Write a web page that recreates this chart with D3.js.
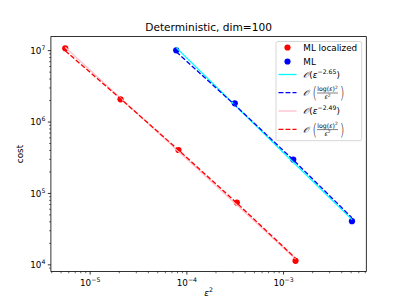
<!DOCTYPE html>
<html>
<head>
<meta charset="utf-8">
<script src="https://cdn.jsdelivr.net/npm/d3@7"></script>
<style>
  body { margin: 0; background: #fff; }
  svg { display: block; font-family: "DejaVu Sans", sans-serif; }
</style>
</head>
<body>
<svg id="chart" width="407" height="305"></svg>
<script>
// epsilon^2 values and cost
const locEps2 = [5.52e-6, 2.06e-5, 8.19e-5, 3.29e-4, 1.33e-3];
const locCost = [1.08e7, 2.08e6, 4.06e5, 7.45e4, 1.14e4];
const mlEps2 = [7.76e-5, 3.13e-4, 1.26e-3, 5.1e-3];
const mlCost = [1.01e7, 1.83e6, 2.98e5, 4.09e4];

const mlRate = 2.65;
const locRate = 2.49;

const xTicks = [-5, -4, -3];
const yTicks = [4, 5, 6, 7];

const W = 407, H = 305;
const margin = { left: 50.9, right: 40.7, top: 36.6, bottom: 33.55 };

// least squares constant for a fixed-shape fit (in log space)
function fitConst(xs, ys, shape) {
    let s = 0;
    xs.forEach((x, i) => { s += Math.log10(ys[i]) - Math.log10(shape(x)); });
    return Math.pow(10, s / xs.length);
}
const powShape = rate => e2 => Math.pow(Math.sqrt(e2), -rate);
const logShape = e2 => Math.pow(Math.log(Math.sqrt(e2)), 2) / e2;

function fitLine(xs, ys, shape) {
    const c = fitConst(xs, ys, shape);
    return xs.map(x => ({ x: x, y: c * shape(x) }));
}

const mlPow = fitLine(mlEps2, mlCost, powShape(mlRate));
const mlLog = fitLine(mlEps2, mlCost, logShape);
const locPow = fitLine(locEps2, locCost, powShape(locRate));
const locLog = fitLine(locEps2, locCost, logShape);

const svg = d3.select('#chart');
const pw = W - margin.left - margin.right;
const ph = H - margin.top - margin.bottom;

function logDomain(vals) {
    const lo = Math.log10(d3.min(vals)), hi = Math.log10(d3.max(vals));
    const pad = (hi - lo) * 0.05;
    return [Math.pow(10, lo - pad), Math.pow(10, hi + pad)];
}

const allX = locEps2.concat(mlEps2);
const allY = locCost.concat(mlCost, [mlPow, mlLog, locPow, locLog].flat().map(d => d.y));

const x = d3.scaleLog().domain(logDomain(allX)).range([margin.left, margin.left + pw]);
const y = d3.scaleLog().domain(logDomain(allY)).range([margin.top + ph, margin.top]);

const g = svg.append('g');

// plot contents clipped to the axes
svg.append('clipPath').attr('id', 'clip')
    .append('rect').attr('x', margin.left).attr('y', margin.top).attr('width', pw).attr('height', ph);
const plot = g.append('g').attr('clip-path', 'url(#clip)');

const pts = [
    { xs: locEps2, ys: locCost, color: 'red' },
    { xs: mlEps2, ys: mlCost, color: 'blue' }
];
pts.forEach(p => {
    plot.selectAll(null).data(p.xs).enter().append('circle')
        .attr('cx', d => x(d))
        .attr('cy', (d, i) => y(p.ys[i]))
        .attr('r', 3.1)
        .attr('fill', p.color);
});

const line = d3.line().x(d => x(d.x)).y(d => y(d.y));
const fits = [
    { data: mlPow, color: 'cyan', dash: null },
    { data: mlLog, color: 'blue', dash: '4.9,2.1' },
    { data: locPow, color: 'pink', dash: null },
    { data: locLog, color: 'red', dash: '4.9,2.1' }
];
fits.forEach(f => {
    plot.append('path')
        .attr('d', line(f.data))
        .attr('fill', 'none')
        .attr('stroke', f.color)
        .attr('stroke-width', 1.32)
        .attr('stroke-dasharray', f.dash);
});

// ticks
const tickColor = '#000';
function minorTicks(scale) {
    const [a, b] = scale.domain().map(Math.log10);
    const out = [];
    for (let e = Math.floor(a); e <= Math.ceil(b); e++) {
        for (let m = 2; m <= 9; m++) {
            const v = m * Math.pow(10, e);
            const lv = Math.log10(v);
            if (lv >= a && lv <= b) out.push(v);
        }
    }
    return out;
}

minorTicks(x).forEach(v => {
    g.append('line').attr('x1', x(v)).attr('x2', x(v))
        .attr('y1', margin.top + ph).attr('y2', margin.top + ph + 1.8)
        .attr('stroke', tickColor).attr('stroke-width', 0.6);
});
minorTicks(y).forEach(v => {
    g.append('line').attr('y1', y(v)).attr('y2', y(v))
        .attr('x1', margin.left).attr('x2', margin.left - 1.8)
        .attr('stroke', tickColor).attr('stroke-width', 0.6);
});

function powLabel(sel, exp, anchor) {
    const t = sel.append('text').attr('text-anchor', anchor).attr('font-size', 8.8).attr('fill', '#000');
    t.append('tspan').text('10');
    t.append('tspan').attr('font-size', 6.2).attr('dy', -4).text(exp < 0 ? '\u2212' + (-exp) : exp);
    return t;
}

xTicks.forEach(e => {
    const px = x(Math.pow(10, e));
    g.append('line').attr('x1', px).attr('x2', px)
        .attr('y1', margin.top + ph).attr('y2', margin.top + ph + 3.1)
        .attr('stroke', tickColor).attr('stroke-width', 0.8);
    powLabel(g, e, 'middle').attr('x', px).attr('y', margin.top + ph + 14.6);
});
yTicks.forEach(e => {
    const py = y(Math.pow(10, e));
    g.append('line').attr('y1', py).attr('y2', py)
        .attr('x1', margin.left).attr('x2', margin.left - 3.1)
        .attr('stroke', tickColor).attr('stroke-width', 0.8);
    powLabel(g, e, 'end').attr('x', margin.left - 5.5).attr('y', py + 3.2);
});

// frame
g.append('rect').attr('x', margin.left).attr('y', margin.top).attr('width', pw).attr('height', ph)
    .attr('fill', 'none').attr('stroke', '#000').attr('stroke-width', 0.8);

// title and axis labels
g.append('text').attr('x', margin.left + pw / 2).attr('y', 31)
    .attr('text-anchor', 'middle').attr('font-size', 10.6).text('Deterministic, dim=100');

const xl = g.append('text').attr('x', margin.left + pw / 2).attr('y', 296)
    .attr('text-anchor', 'middle').attr('font-size', 8.8);
xl.append('tspan').attr('font-style', 'italic').text('\u03b5');
xl.append('tspan').attr('font-size', 6.2).attr('dy', -4).text('2');

g.append('text').attr('transform', `translate(23,${margin.top + ph / 2}) rotate(-90)`)
    .attr('text-anchor', 'middle').attr('font-size', 8.8).text('cost');

// legend
const lg = g.append('g');
lg.append('rect').attr('x', 276).attr('y', 41.5).attr('width', 85.7).attr('height', 99.2)
    .attr('rx', 2).attr('fill', 'rgba(255,255,255,0.8)').attr('stroke', '#cccccc').attr('stroke-width', 0.8);

const hx0 = 278.5, hx1 = 296.5, tx = 303.3;
const legendPts = [
    { label: 'ML localized', color: 'red', y: 47.5 },
    { label: 'ML', color: 'blue', y: 61.5 }
];
legendPts.forEach(d => {
    lg.append('circle').attr('cx', (hx0 + hx1) / 2).attr('cy', d.y).attr('r', 3.1).attr('fill', d.color);
    lg.append('text').attr('x', tx).attr('y', d.y + 3.2).attr('font-size', 8.8).text(d.label);
});

function bigO(t) {
    t.append('tspan').attr('font-family', '"DejaVu Serif", serif').attr('font-style', 'italic').text('\ud835\udcaa');
}

function powEntry(yy, rate) {
    const t = lg.append('text').attr('x', tx).attr('y', yy + 3.2).attr('font-size', 8.8);
    bigO(t);
    t.append('tspan').text('(');
    t.append('tspan').attr('font-style', 'italic').text('\u03b5');
    t.append('tspan').attr('font-size', 6.2).attr('dy', -4).text('\u2212' + rate.toFixed(2));
    t.append('tspan').attr('dy', 4).text(')');
}

function fracEntry(yy) {
    const t = lg.append('text').attr('x', tx).attr('y', yy + 3.2).attr('font-size', 8.8);
    bigO(t);
    const ox = tx + 9.2;
    lg.append('text').attr('x', ox).attr('y', yy + 4.6).attr('font-size', 14).attr('font-weight', 200)
        .attr('transform', `translate(${ox},${yy}) scale(0.8,1.15) translate(${-ox},${-yy})`).text('(');
    const cx = ox + 15;
    const num = lg.append('text').attr('x', cx).attr('y', yy - 1.5).attr('text-anchor', 'middle').attr('font-size', 6.2);
    num.append('tspan').text('log(');
    num.append('tspan').attr('font-style', 'italic').text('\u03b5');
    num.append('tspan').text(')');
    num.append('tspan').attr('font-size', 4.4).attr('dy', -2.5).text('2');
    lg.append('line').attr('x1', cx - 10.5).attr('x2', cx + 10.5).attr('y1', yy + 0.3).attr('y2', yy + 0.3)
        .attr('stroke', '#000').attr('stroke-width', 0.5);
    const den = lg.append('text').attr('x', cx).attr('y', yy + 6.5).attr('text-anchor', 'middle').attr('font-size', 6.2);
    den.append('tspan').attr('font-style', 'italic').text('\u03b5');
    den.append('tspan').attr('font-size', 4.4).attr('dy', -2.5).text('2');
    const rx = cx + 12.5;
    lg.append('text').attr('x', rx).attr('y', yy + 4.6).attr('font-size', 14).attr('font-weight', 200)
        .attr('transform', `translate(${rx},${yy}) scale(0.8,1.15) translate(${-rx},${-yy})`).text(')');
}

const legendLines = [
    { color: 'cyan', dash: null, y: 74.5, kind: 'pow', rate: mlRate },
    { color: 'blue', dash: '4.9,2.1', y: 92.7, kind: 'log' },
    { color: 'pink', dash: null, y: 111, kind: 'pow', rate: locRate },
    { color: 'red', dash: '4.9,2.1', y: 129.3, kind: 'log' }
];
legendLines.forEach(d => {
    lg.append('line').attr('x1', hx0).attr('x2', hx1).attr('y1', d.y).attr('y2', d.y)
        .attr('stroke', d.color).attr('stroke-width', 1.32).attr('stroke-dasharray', d.dash);
    if (d.kind === 'pow') powEntry(d.y, d.rate);
    else fracEntry(d.y);
});
</script>
</body>
</html>
